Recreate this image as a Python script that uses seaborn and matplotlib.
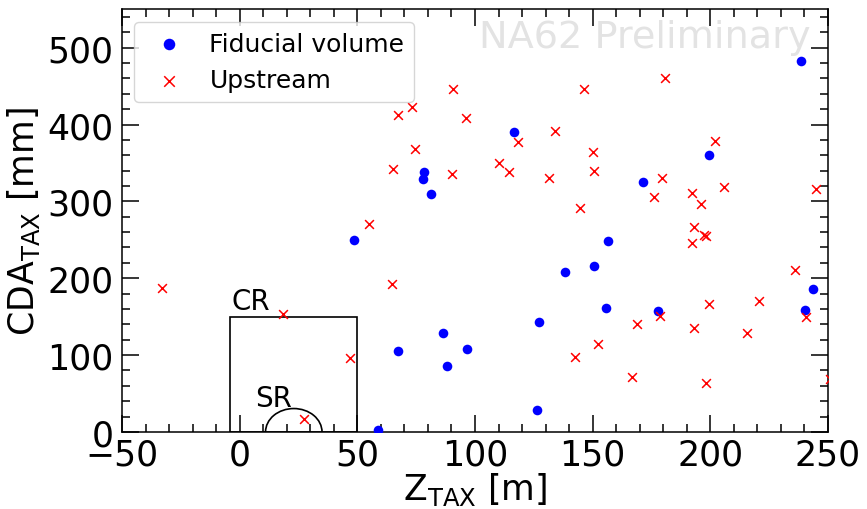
import matplotlib
matplotlib.use("Agg")
import matplotlib.pyplot as plt
from matplotlib.patches import Rectangle, Arc
from matplotlib.ticker import MultipleLocator
import seaborn as sns
import pandas as pd

# Fiducial volume events (Z_TAX [m], CDA_TAX [mm])
fid_z = [238.5, 116.5, 78.2, 77.8, 81.2, 48.4, 67.3, 86.4, 88.2, 96.8, 58.8,
         171.4, 199.5, 156.5, 138.1, 150.4, 155.5, 127.2, 126.5, 177.8, 243.6, 240.1]
fid_cda = [483, 390, 338, 329, 310, 250, 105, 129, 86, 108, 2,
           325, 360, 248, 208, 216, 161, 143, 28, 158, 186, 159]

# Upstream events
up_z = [90.8, 73.2, 67.3, 96.3, 74.4, 65.2, 90.2, 110.2, 114.6, 118.3, 133.9, 131.5,
        146.3, 150.3, 150.4, 144.6, 180.8, 179.6, 176.2, 192.2, 195.9, 202.0, 206.0,
        245.0, 55.0, -33.1, 64.6, 18.4, 46.7, 27.3, 193.1, 192.2, 197.2, 198.2, 235.9,
        220.7, 199.6, 178.5, 169.0, 193.2, 215.6, 240.8, 152.1, 142.5, 166.7, 198.2, 251.0]
up_cda = [446, 423, 412, 409, 368, 342, 336, 350, 338, 377, 392, 330,
          446, 364, 339, 291, 461, 330, 306, 311, 297, 378, 319,
          316, 270, 187, 192, 153, 96, 17, 267, 246, 256, 255, 211,
          170, 166, 151, 140, 135, 129, 149, 114, 97, 71, 64, 69]

fid_df = pd.DataFrame({"z": fid_z, "cda": fid_cda})
up_df = pd.DataFrame({"z": up_z, "cda": up_cda})

sns.set_style("ticks", rc={"text.color": "black", "axes.labelcolor": "black",
                           "xtick.color": "black", "ytick.color": "black",
                           "axes.edgecolor": "black"})
plt.rcParams["font.family"] = ["DejaVu Sans"]

fig = plt.figure(figsize=(8.67, 5.10), dpi=100)
ax = fig.add_axes([0.1407, 0.151, 0.955 - 0.1407, 0.980 - 0.151])

sns.scatterplot(data=fid_df, x="z", y="cda", ax=ax, color="blue", marker="o",
                s=48, linewidth=0, label="Fiducial volume", zorder=3)
sns.scatterplot(data=up_df, x="z", y="cda", ax=ax, color="red", marker="x",
                s=40, linewidth=1.1, label="Upstream", zorder=3)

# control and signal regions
ax.add_patch(Rectangle((-4, 0), 54, 150, fill=False, edgecolor="black", lw=1.2))
ax.add_patch(Arc((23, 0), 24, 61, theta1=0, theta2=180, edgecolor="black", lw=1.2))
ax.text(-3.5, 160, "CR", fontsize=20)
ax.text(6.4, 34, "SR", fontsize=20)

ax.text(0.975, 0.91, "NA62 Preliminary", transform=ax.transAxes, ha="right",
        va="baseline", fontsize=27.5, color="0.89", zorder=0)

ax.set_xlim(-50, 250)
ax.set_ylim(0, 550)
ax.xaxis.set_major_locator(MultipleLocator(50))
ax.xaxis.set_minor_locator(MultipleLocator(10))
ax.yaxis.set_major_locator(MultipleLocator(100))
ax.yaxis.set_minor_locator(MultipleLocator(20))
ax.tick_params(which="both", direction="in", top=True, right=True, width=1.1)
ax.tick_params(which="major", length=12, labelsize=25)
ax.tick_params(axis="x", which="major", pad=4)
ax.tick_params(axis="y", which="major", pad=6)
ax.tick_params(which="minor", length=6)
for sp in ax.spines.values():
    sp.set_linewidth(1.1)

ax.set_xlabel(r"Z$_{\rm TAX}$ [m]", fontsize=25, labelpad=-1)
ax.set_ylabel(r"CDA$_{\rm TAX}$ [mm]", fontsize=25, labelpad=4)

ax.legend(loc="upper left", fontsize=18, handletextpad=0.6, borderaxespad=0.5,
          markerscale=1.2)

plt.savefig("out.png", dpi=100)
